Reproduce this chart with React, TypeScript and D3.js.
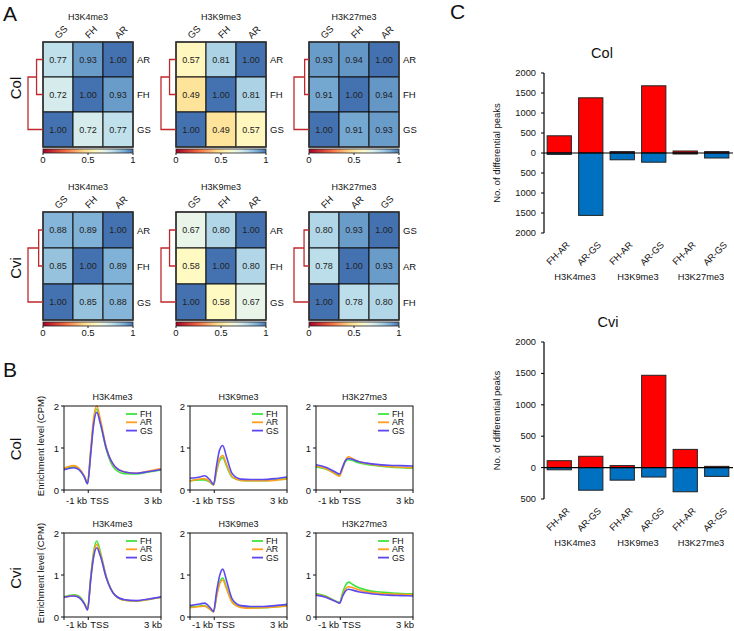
import React, { useEffect, useRef } from 'react';
import * as d3 from 'd3';

const marks = ['H3K4me3', 'H3K9me3', 'H3K27me3'];
const accessions = ['Col', 'Cvi'];
const samples = ['FH', 'AR', 'GS'];
const sampleColors = ['#3de63d', '#ff9e1f', '#5b48f0'];

// Pearson correlation heatmaps (rows listed top to bottom)
const colHeatCols = [['GS', 'FH', 'AR'], ['GS', 'FH', 'AR'], ['GS', 'FH', 'AR']];
const colHeatRows = [['AR', 'FH', 'GS'], ['AR', 'FH', 'GS'], ['AR', 'FH', 'GS']];
const colHeatValues = [
  [[0.77, 0.93, 1.0], [0.72, 1.0, 0.93], [1.0, 0.72, 0.77]],
  [[0.57, 0.81, 1.0], [0.49, 1.0, 0.81], [1.0, 0.49, 0.57]],
  [[0.93, 0.94, 1.0], [0.91, 1.0, 0.94], [1.0, 0.91, 0.93]],
];
const cviHeatCols = [['GS', 'FH', 'AR'], ['GS', 'FH', 'AR'], ['FH', 'AR', 'GS']];
const cviHeatRows = [['AR', 'FH', 'GS'], ['AR', 'FH', 'GS'], ['GS', 'AR', 'FH']];
const cviHeatValues = [
  [[0.88, 0.89, 1.0], [0.85, 1.0, 0.89], [1.0, 0.85, 0.88]],
  [[0.67, 0.8, 1.0], [0.58, 1.0, 0.8], [1.0, 0.58, 0.67]],
  [[0.8, 0.93, 1.0], [0.78, 1.0, 0.93], [1.0, 0.78, 0.8]],
];
// relative height of the first merge in each dendrogram (second merge = 1)
const colDendroInner = [0.43, 0.43, 0.29];
const cviDendroInner = [0.29, 0.43, 0.33];
const colorbarTicks = [0, 0.5, 1];

// Average enrichment profiles around the TSS (kb)
const profileKb = [-1, -0.6, -0.4, -0.15, -0.03, 0.1, 0.22, 0.35, 0.5, 0.75, 1.1, 1.5, 2, 2.5, 3];
const colK4 = [
  [0.5, 0.55, 0.5, 0.3, 0.15, 0.9, 1.6, 1.93, 1.6, 0.95, 0.5, 0.39, 0.38, 0.43, 0.48],
  [0.52, 0.58, 0.53, 0.32, 0.16, 0.95, 1.7, 2.0, 1.68, 1.0, 0.55, 0.43, 0.4, 0.45, 0.51],
  [0.48, 0.53, 0.49, 0.3, 0.15, 0.85, 1.55, 1.85, 1.58, 0.98, 0.56, 0.43, 0.4, 0.44, 0.49],
];
const colK9 = [
  [0.22, 0.24, 0.24, 0.17, 0.12, 0.45, 0.7, 0.77, 0.58, 0.3, 0.23, 0.22, 0.22, 0.24, 0.27],
  [0.21, 0.26, 0.27, 0.18, 0.12, 0.48, 0.74, 0.82, 0.62, 0.31, 0.23, 0.22, 0.22, 0.23, 0.26],
  [0.28, 0.31, 0.34, 0.22, 0.13, 0.6, 0.95, 1.06, 0.8, 0.38, 0.26, 0.25, 0.25, 0.27, 0.31],
];
const colK27 = [
  [0.55, 0.5, 0.45, 0.38, 0.36, 0.52, 0.68, 0.72, 0.7, 0.65, 0.61, 0.58, 0.55, 0.53, 0.52],
  [0.57, 0.51, 0.45, 0.36, 0.33, 0.52, 0.72, 0.79, 0.75, 0.68, 0.63, 0.59, 0.56, 0.54, 0.53],
  [0.6, 0.54, 0.49, 0.41, 0.38, 0.55, 0.71, 0.75, 0.73, 0.68, 0.64, 0.61, 0.59, 0.58, 0.57],
];
const cviK4 = [
  [0.48, 0.53, 0.5, 0.32, 0.17, 0.95, 1.55, 1.81, 1.55, 0.95, 0.52, 0.4, 0.38, 0.42, 0.47],
  [0.47, 0.51, 0.48, 0.31, 0.17, 0.9, 1.48, 1.73, 1.5, 0.93, 0.52, 0.4, 0.38, 0.42, 0.47],
  [0.47, 0.5, 0.47, 0.3, 0.17, 0.88, 1.42, 1.65, 1.45, 0.92, 0.52, 0.41, 0.39, 0.43, 0.48],
];
const cviK9 = [
  [0.24, 0.26, 0.27, 0.17, 0.12, 0.52, 0.82, 0.93, 0.72, 0.36, 0.24, 0.22, 0.22, 0.24, 0.27],
  [0.22, 0.25, 0.26, 0.17, 0.12, 0.5, 0.78, 0.88, 0.68, 0.34, 0.23, 0.21, 0.22, 0.24, 0.26],
  [0.27, 0.31, 0.33, 0.21, 0.13, 0.62, 0.98, 1.14, 0.88, 0.42, 0.27, 0.25, 0.25, 0.27, 0.3],
];
const cviK27 = [
  [0.56, 0.5, 0.44, 0.37, 0.35, 0.58, 0.76, 0.83, 0.78, 0.7, 0.64, 0.6, 0.58, 0.56, 0.55],
  [0.54, 0.48, 0.43, 0.36, 0.33, 0.52, 0.67, 0.72, 0.7, 0.65, 0.6, 0.57, 0.55, 0.54, 0.53],
  [0.52, 0.47, 0.42, 0.36, 0.33, 0.5, 0.62, 0.66, 0.64, 0.6, 0.57, 0.54, 0.52, 0.51, 0.5],
];
const profileTicks = [0, 1, 2];

// Differential peaks per contrast, up (red) and down (blue)
const contrasts = ['FH-AR', 'AR-GS'];
const colUp = [430, 1380, 35, 1680, 50, 35];
const colDown = [35, 1560, 170, 230, 25, 125];
const cviUp = [110, 180, 32, 1470, 290, 20];
const cviDown = [35, 360, 200, 150, 385, 140];
const colPeakTicks = [2000, 1500, 1000, 500, 0, -500, -1000, -1500, -2000];
const cviPeakTicks = [2000, 1500, 1000, 500, 0, -500];

const FONT = '"Liberation Sans", Arial, sans-serif';

const heatColor = d3
  .scaleLinear<string>()
  .domain([0, 0.25, 0.45, 0.58, 0.68, 0.78, 0.9, 1])
  .range(['#a50026', '#f46d43', '#fed98a', '#fffac2', '#e6f4ec', '#bcdeeb', '#7aaed5', '#4472b0'])
  .clamp(true);

type G = d3.Selection<SVGGElement, unknown, null, undefined>;

function drawHeatmap(
  g: G, x0: number, y0: number, cellH: number, title: string,
  cols: string[], rows: string[], values: number[][], inner: number
) {
  const cellW = 30;
  const x = d3.scaleBand<number>().domain([0, 1, 2]).range([x0, x0 + 3 * cellW]);
  const y = d3.scaleBand<number>().domain([0, 1, 2]).range([y0, y0 + 3 * cellH]);

  g.append('text').attr('x', x0 + 45).attr('y', y0 - 22).attr('text-anchor', 'middle')
    .attr('font-size', 9).text(title);

  cols.forEach((c, i) => {
    g.append('text')
      .attr('transform', `translate(${x(i)! + cellW / 2 + 3},${y0 - 10}) rotate(-45)`)
      .attr('text-anchor', 'middle').attr('dominant-baseline', 'central')
      .attr('font-size', 9.5).text(c);
  });

  values.forEach((row, r) => {
    row.forEach((v, c) => {
      g.append('rect').attr('x', x(c)!).attr('y', y(r)!).attr('width', cellW).attr('height', cellH)
        .attr('fill', heatColor(v)).attr('stroke', '#111').attr('stroke-width', 1);
      g.append('text').attr('x', x(c)! + cellW / 2).attr('y', y(r)! + cellH / 2)
        .attr('text-anchor', 'middle').attr('dominant-baseline', 'central')
        .attr('font-size', 9).attr('fill', '#222').text(v.toFixed(2));
    });
    g.append('text').attr('x', x0 + 3 * cellW + 4).attr('y', y(r)! + cellH / 2)
      .attr('dominant-baseline', 'central').attr('font-size', 9.5).text(rows[r]);
  });
  g.append('rect').attr('x', x0).attr('y', y0).attr('width', 3 * cellW).attr('height', 3 * cellH)
    .attr('fill', 'none').attr('stroke', '#333').attr('stroke-width', 1.5);

  // dendrogram: first two rows merge, then the third
  const rc = [0, 1, 2].map(r => y(r)! + cellH / 2);
  const xi = x0 - 15 * inner;
  const xo = x0 - 15;
  g.append('path')
    .attr('d', `M${x0},${rc[0]}H${xi}V${rc[1]}H${x0}M${xi},${(rc[0] + rc[1]) / 2}H${xo}V${rc[2]}H${x0}`)
    .attr('fill', 'none').attr('stroke', '#c0282d').attr('stroke-width', 1.3);

  // colour key
  const cb = y0 + 3 * cellH + 2;
  const cx = d3.scaleLinear().domain([0, 1]).range([x0, x0 + 3 * cellW]);
  const gid = `grad-${Math.round(x0)}-${Math.round(y0)}`;
  const grad = g.append('defs').append('linearGradient').attr('id', gid);
  d3.range(0, 1.0001, 0.05).forEach(t => {
    grad.append('stop').attr('offset', `${t * 100}%`).attr('stop-color', heatColor(t));
  });
  g.append('rect').attr('x', x0).attr('y', cb).attr('width', 3 * cellW).attr('height', 4)
    .attr('fill', `url(#${gid})`).attr('stroke', '#222').attr('stroke-width', 0.8);
  colorbarTicks.forEach(t => {
    g.append('line').attr('x1', cx(t)).attr('x2', cx(t)).attr('y1', cb + 4).attr('y2', cb + 6)
      .attr('stroke', '#222');
    g.append('text').attr('x', cx(t)).attr('y', cb + 13.5).attr('text-anchor', 'middle')
      .attr('font-size', 9.5).text(t === 0.5 ? '0.5' : String(t));
  });
}

function drawProfile(
  g: G, x0: number, y0: number, title: string, series: number[][],
  labelY: number, withYLabel: boolean
) {
  const w = 97;
  const h = 84;
  const x = d3.scaleLinear().domain([-1, 3]).range([x0, x0 + w]);
  const y = d3.scaleLinear().domain([0, 2]).range([y0 + h, y0]);

  g.append('text').attr('x', x0 + w / 2).attr('y', y0 - 6.5).attr('text-anchor', 'middle')
    .attr('font-size', 9).text(title);

  const line = d3.line<number>()
    .x((_, i) => x(profileKb[i]))
    .y(d => y(d))
    .curve(d3.curveMonotoneX);
  series.forEach((s, i) => {
    g.append('path').attr('d', line(s)!).attr('fill', 'none')
      .attr('stroke', sampleColors[i]).attr('stroke-width', 1.6);
  });

  g.append('rect').attr('x', x0).attr('y', y0).attr('width', w).attr('height', h)
    .attr('fill', 'none').attr('stroke', '#111').attr('stroke-width', 1);

  profileTicks.forEach(t => {
    g.append('line').attr('x1', x0 - 3).attr('x2', x0).attr('y1', y(t)).attr('y2', y(t))
      .attr('stroke', '#111');
    g.append('text').attr('x', x0 - 5).attr('y', y(t)).attr('text-anchor', 'end')
      .attr('dominant-baseline', 'central').attr('font-size', 9.5).text(t);
  });
  [-1, 0, 3].forEach(t => {
    g.append('line').attr('x1', x(t)).attr('x2', x(t)).attr('y1', y0 + h).attr('y2', y0 + h + 3)
      .attr('stroke', '#111');
  });
  g.append('text').attr('x', x(-1) + 2).attr('y', labelY).attr('font-size', 9.5).text('-1 kb');
  g.append('text').attr('x', x(0) + 2).attr('y', labelY).attr('font-size', 9.5).text('TSS');
  g.append('text').attr('x', x(3) + 1).attr('y', labelY).attr('text-anchor', 'end')
    .attr('font-size', 9.5).text('3 kb');

  samples.forEach((s, i) => {
    const ly = y0 + 8 + i * 8.3;
    g.append('line').attr('x1', x0 + 62).attr('x2', x0 + 73).attr('y1', ly).attr('y2', ly)
      .attr('stroke', sampleColors[i]).attr('stroke-width', 1.8);
    g.append('text').attr('x', x0 + 76).attr('y', ly).attr('dominant-baseline', 'central')
      .attr('font-size', 8.8).text(s);
  });

  if (withYLabel) {
    g.append('text').attr('transform', `translate(44,${y0 + 40}) rotate(-90)`)
      .attr('text-anchor', 'middle').attr('font-size', 9.5).text('Enrichment level (CPM)');
  }
}

function drawPeaks(
  g: G, title: string, titleX: number, titleY: number, domain: [number, number],
  range: [number, number], ticks: number[], up: number[], down: number[]
) {
  const axisX = 544;
  const x = d3.scaleBand<number>().domain(d3.range(up.length)).range([axisX, 732])
    .paddingInner(0.23).paddingOuter(0.1);
  const y = d3.scaleLinear().domain(domain).range(range);

  g.append('text').attr('x', titleX).attr('y', titleY).attr('text-anchor', 'middle')
    .attr('font-size', 14.5).text(title);

  up.forEach((v, i) => {
    g.append('rect').attr('x', x(i)!).attr('y', y(v)).attr('width', x.bandwidth())
      .attr('height', y(0) - y(v)).attr('fill', '#ff0000').attr('stroke', '#222').attr('stroke-width', 1);
  });
  down.forEach((v, i) => {
    g.append('rect').attr('x', x(i)!).attr('y', y(0)).attr('width', x.bandwidth())
      .attr('height', y(-v) - y(0)).attr('fill', '#0070c0').attr('stroke', '#222').attr('stroke-width', 1);
  });

  g.append('line').attr('x1', axisX).attr('x2', 733).attr('y1', y(0)).attr('y2', y(0))
    .attr('stroke', '#000').attr('stroke-width', 1.2);
  g.append('line').attr('x1', axisX).attr('x2', axisX).attr('y1', range[1]).attr('y2', range[0])
    .attr('stroke', '#000').attr('stroke-width', 1.2);
  ticks.forEach(t => {
    g.append('line').attr('x1', axisX - 3).attr('x2', axisX).attr('y1', y(t)).attr('y2', y(t))
      .attr('stroke', '#000');
    g.append('text').attr('x', axisX - 8).attr('y', y(t)).attr('text-anchor', 'end')
      .attr('dominant-baseline', 'central').attr('font-size', 9.3).text(Math.abs(t));
  });

  const bottom = range[0];
  up.forEach((_, i) => {
    const cx = x(i)! + x.bandwidth() / 2;
    g.append('text').attr('transform', `translate(${cx + 11},${bottom + 12.5}) rotate(-45)`)
      .attr('text-anchor', 'end').attr('font-size', 9.3).text(contrasts[i % 2]);
  });
  marks.forEach((m, k) => {
    const cx = (x(2 * k)! + x(2 * k + 1)! + x.bandwidth()) / 2;
    g.append('text').attr('x', cx).attr('y', bottom + 46.5).attr('text-anchor', 'middle')
      .attr('font-size', 9.3).text(m);
  });

  g.append('text').attr('transform', `translate(500,${(range[0] + range[1]) / 2}) rotate(-90)`)
    .attr('text-anchor', 'middle').attr('font-size', 9.5).text('No. of differential peaks');
}

export default function App() {
  const ref = useRef<SVGSVGElement>(null);

  useEffect(() => {
    const svg = d3.select(ref.current);
    svg.selectAll('*').remove();
    const root = svg.append('g').attr('font-family', FONT).attr('fill', '#111') as unknown as G;

    // panel letters
    root.append('text').attr('x', 3).attr('y', 21).attr('font-size', 21).text('A');
    root.append('text').attr('x', 3).attr('y', 377).attr('font-size', 21).text('B');
    root.append('text').attr('x', 450).attr('y', 19).attr('font-size', 21).text('C');

    // A: correlation heatmaps
    const heatX = [43, 176, 309];
    const heatY = [42, 212];
    const heatCellH = [35, 36];
    const accLabelY = [88, 268];
    [colHeatValues, cviHeatValues].forEach((vals, a) => {
      const cols = a === 0 ? colHeatCols : cviHeatCols;
      const rows = a === 0 ? colHeatRows : cviHeatRows;
      const inner = a === 0 ? colDendroInner : cviDendroInner;
      root.append('text').attr('transform', `translate(21,${accLabelY[a]}) rotate(-90)`)
        .attr('text-anchor', 'middle').attr('font-size', 15).text(accessions[a]);
      marks.forEach((m, k) => {
        drawHeatmap(root, heatX[k], heatY[a], heatCellH[a], m, cols[k], rows[k], vals[k], inner[k]);
      });
    });

    // B: TSS profiles
    const profX = [64, 190, 316];
    const profY = [406, 533];
    const profLabelY = [504, 628];
    const profAccY = [449, 578];
    [[colK4, colK9, colK27], [cviK4, cviK9, cviK27]].forEach((panels, a) => {
      root.append('text').attr('transform', `translate(21,${profAccY[a]}) rotate(-90)`)
        .attr('text-anchor', 'middle').attr('font-size', 15).text(accessions[a]);
      panels.forEach((series, k) => {
        drawProfile(root, profX[k], profY[a], marks[k], series, profLabelY[a], k === 0);
      });
    });

    // C: differential peak counts
    drawPeaks(root, accessions[0], 602, 58, [-2000, 2000], [233, 73], colPeakTicks, colUp, colDown);
    drawPeaks(root, accessions[1], 608, 327, [-500, 2000], [499, 342], cviPeakTicks, cviUp, cviDown);
  }, []);

  return (
    <svg
      ref={ref}
      width={734}
      height={631}
      style={{ position: 'absolute', left: 0, top: 0, background: '#fff' }}
    />
  );
}
